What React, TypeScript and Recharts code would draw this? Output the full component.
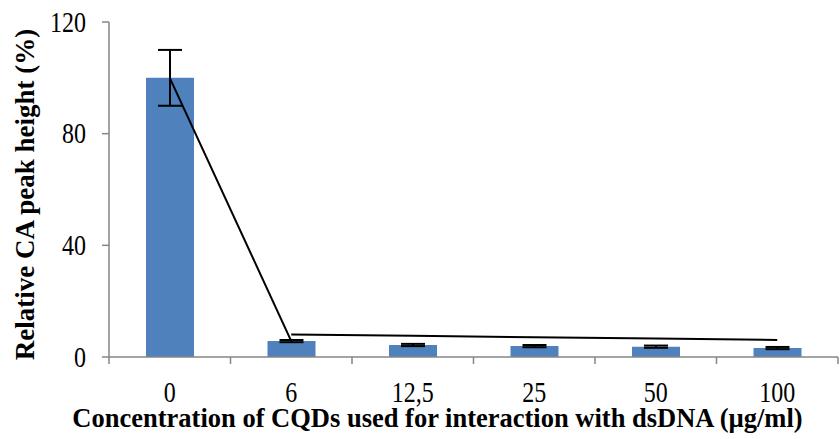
import React from 'react';
import { ComposedChart, Bar, Line, XAxis, YAxis, ErrorBar, Label } from 'recharts';

const categories = ['0', '6', '12,5', '25', '50', '100'];
const peakHeight = [100, 5.7, 4.3, 3.9, 3.7, 3.2];
const peakError = [10, 0.4, 0.4, 0.4, 0.4, 0.4];
const dropLine = [100, 5.7, null, null, null, null];
const trendLine = [null, 8.1, 7.6, 7.1, 6.6, 6.1];
const yTicks = [0, 40, 80, 120];

const data = categories.map((c, i) => ({
  cat: c,
  value: peakHeight[i],
  err: peakError[i],
  drop: dropLine[i],
  trend: trendLine[i],
}));

const FONT = '"Liberation Serif", "Times New Roman", serif';
const AXIS = '#868686';

// category labels with Excel-style tick marks between the bars
const CategoryTick = (props: any) => {
  const { x, y, payload, index, visibleTicksCount } = props;
  const half = payload && payload.offset ? payload.offset : 61;
  const axisY = y;
  return (
    <g>
      <line x1={x - half} y1={axisY} x2={x - half} y2={axisY + 7} stroke={AXIS} strokeWidth={1.5} />
      {index === visibleTicksCount - 1 && (
        <line x1={x + half} y1={axisY} x2={x + half} y2={axisY + 7} stroke={AXIS} strokeWidth={1.5} />
      )}
      <g transform={`translate(${x},${axisY + 45}) scale(1,1.2)`}>
        <text x={0} y={0} textAnchor="middle" fontFamily={FONT} fontSize={24} fill="#000">
          {payload.value}
        </text>
      </g>
    </g>
  );
};

const ValueTick = (props: any) => {
  const { x, y, payload } = props;
  return (
    <g transform={`translate(${x},${y}) scale(1,1.2)`}>
      <text x={0} y={0} dy="0.34em" textAnchor="end" fontFamily={FONT} fontSize={24} fill="#000">
        {payload.value}
      </text>
    </g>
  );
};

const XTitle = (props: any) => {
  const vb = props.viewBox || { x: 109, y: 357, width: 729, height: 82 };
  return (
    <text
      x={vb.x + vb.width / 2 - 36}
      y={vb.y + 70}
      textAnchor="middle"
      fontFamily={FONT}
      fontSize={26.5}
      fontWeight="bold"
      fill="#000"
    >
      Concentration of CQDs used for interaction with dsDNA (µg/ml)
    </text>
  );
};

const YTitle = (props: any) => {
  const vb = props.viewBox || { x: 0, y: 22, width: 109, height: 335 };
  const cx = vb.x + 34;
  const cy = vb.y + vb.height / 2 + 5;
  return (
    <text
      x={cx}
      y={cy}
      transform={`rotate(-90, ${cx}, ${cy})`}
      textAnchor="middle"
      fontFamily={FONT}
      fontSize={27}
      fontWeight="bold"
      fill="#000"
    >
      Relative CA peak height (%)
    </text>
  );
};

export default function App() {
  return (
    <div style={{ position: 'absolute', left: 0, top: 0, width: 840, height: 439, background: '#fff' }}>
      <ComposedChart
        width={840}
        height={439}
        data={data}
        margin={{ top: 22, right: 2, bottom: 0, left: 0 }}
        barCategoryGap={0}
      >
        <XAxis
          dataKey="cat"
          height={82}
          stroke={AXIS}
          strokeWidth={1.5}
          tickLine={false}
          tickSize={0}
          tickMargin={0}
          tick={<CategoryTick />}
          interval={0}
        >
          <Label content={<XTitle />} />
        </XAxis>
        <YAxis
          width={109}
          domain={[0, 120]}
          ticks={yTicks}
          interval={0}
          stroke={AXIS}
          strokeWidth={1.5}
          tickSize={7}
          tickMargin={16}
          tick={<ValueTick />}
        >
          <Label content={<YTitle />} />
        </YAxis>
        <Bar dataKey="value" fill="#4F81BD" barSize={48} isAnimationActive={false}>
          <ErrorBar dataKey="err" width={12} stroke="#000" strokeWidth={2} />
        </Bar>
        <Line
          dataKey="drop"
          type="linear"
          stroke="#000"
          strokeWidth={2}
          dot={false}
          activeDot={false}
          connectNulls={false}
          isAnimationActive={false}
        />
        <Line
          dataKey="trend"
          type="linear"
          stroke="#000"
          strokeWidth={2}
          dot={false}
          activeDot={false}
          connectNulls={false}
          isAnimationActive={false}
        />
      </ComposedChart>
    </div>
  );
}
